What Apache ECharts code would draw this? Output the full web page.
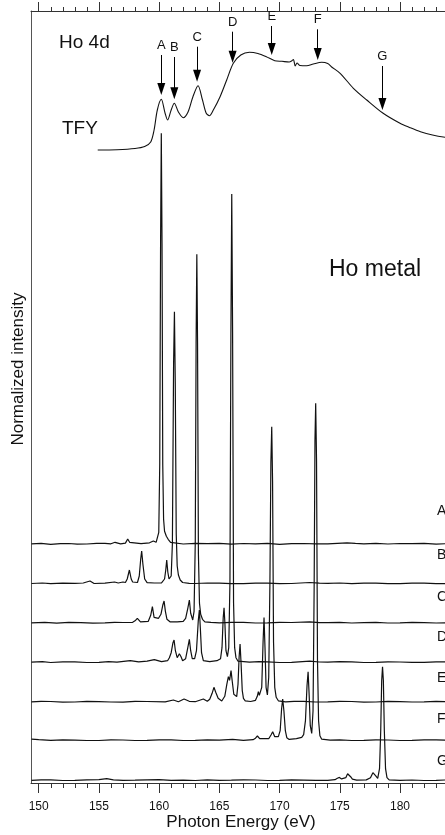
<!DOCTYPE html>
<html>
<head>
<meta charset="utf-8">
<script src="https://cdn.jsdelivr.net/npm/echarts@6/dist/echarts.min.js"></script>
<style>
html,body{margin:0;padding:0;background:#fff;}
#chart{width:445px;height:835px;}
</style>
</head>
<body>
<div id="chart"></div>
<script>
// Energy axis ticks (eV)
const majorTicks = [150, 155, 160, 165, 170, 175, 180, 185];
const minorTicks = [150,151,152,153,154,155,156,157,158,159,160,161,162,163,164,165,166,167,168,169,170,171,172,173,174,175,176,177,178,179,180,181,182,183,184,185];

// Excitation energies marked on the TFY spectrum
const arrowLetters = ['A', 'B', 'C', 'D', 'E', 'F', 'G'];
const arrowEnergy  = [160.18, 161.26, 163.15, 166.1, 169.35, 173.17, 178.54];
const arrowStart   = [728, 726, 736.3, 751.3, 757, 753.7, 717];
const arrowTip     = [688, 683.7, 701.3, 720.3, 728, 723, 673];

// Total fluorescence yield [energy, intensity]
const tfy = [[154.9,633],[156.5,633.3],[158.0,634.5],[158.8,636.5],[159.3,641],[159.58,653],[159.85,673],[160.18,683.7],[160.49,670],[160.7,663],[161.0,673],[161.26,679.7],[161.6,671],[162.0,665.3],[162.4,671],[162.8,686],[163.23,697.3],[163.6,683],[163.9,670],[164.17,667.3],[164.5,673],[165.06,686.3],[165.61,703],[166.16,719.7],[166.78,728],[167.5,730.7],[168.2,729.5],[168.9,726.3],[169.6,722.3],[170.2,721.7],[170.8,721],[171.0,722],[171.15,723.5],[171.3,717],[171.45,720],[171.7,717.5],[172.25,717.3],[172.8,719],[173.5,720.7],[174.0,719.5],[174.3,716.3],[175.03,709.7],[176.13,694.7],[177.24,683],[178.6,669.7],[180.0,659.7],[180.8,655.5],[181.7,651.3],[182.7,648],[183.75,645.7],[184.9,644]];

// Resonant emission spectra: vertical offsets and [energy, intensity above baseline]
const traceNames = ['A', 'B', 'C', 'D', 'E', 'F', 'G'];
const traceOffsets = [238.7, 199, 159.7, 120.3, 80.7, 42.3, 2.3];

const traceA = [[149.4,0.5],[150.2,1],[151,0],[151.8,0.7],[152.5,0.8],[153.2,0.2],[154,0.3],[154.8,0.9],[155.5,1],[156.0,0.5],[156.34,2],[156.8,0.5],[157.2,1.2],[157.39,5.3],[157.55,2],[157.7,0.8],[158.5,0.6],[159.2,1.5],[159.52,3.3],[159.65,2],[159.75,2],[159.88,4],[159.97,12],[160.05,80],[160.12,300],[160.18,411],[160.24,300],[160.3,80],[160.37,25],[160.45,13],[160.6,8],[160.75,5],[160.95,2],[161.1,0.8],[162,0.3],[163,0.9],[164,0.6],[165,0.9],[166,0.2],[167,0.8],[168,0.5],[169,0.9],[170,0],[171,0.6],[172,0.8],[173,0.4],[174,0.5],[175.6,1.5],[176.3,0.9],[177,0.5],[178,0.9],[179,0.3],[180,0.8],[181,0.6],[182,0.9],[183,0.2],[184,0.7],[184.9,0.5]];

const traceB = [[149.4,0.5],[150.3,1],[151,0.3],[152,0.9],[153,0.6],[153.7,1],[154.26,3],[154.6,0.5],[155.5,0.8],[156.3,2],[156.6,1],[157,2],[157.2,1.5],[157.35,5],[157.53,14],[157.68,5],[157.8,2],[158.2,1.5],[158.35,8],[158.47,25],[158.55,33],[158.65,20],[158.8,5],[159,1.3],[159.6,1],[160.2,1.2],[160.45,5],[160.55,14],[160.63,24],[160.72,12],[160.82,5],[160.9,4],[161.0,8],[161.1,40],[161.2,220],[161.27,272.3],[161.34,200],[161.42,50],[161.5,18],[161.6,9],[161.75,4],[161.95,1.5],[162.5,0.6],[163,0.5],[164,1],[165,0.8],[166,0.4],[167,0.3],[168,0.9],[169,0.8],[170,0.3],[171,0.5],[172.5,1.5],[173.3,0.8],[174,0.6],[175,1],[176,0.3],[177,0.9],[178,0.8],[179,0.3],[180,0.4],[181,0.9],[182,0.8],[183,0.3],[184.9,0.4]];

const traceC = [[149.4,0.5],[150.5,0.9],[151.5,0.2],[152.5,0.9],[153.5,0.7],[154.5,0.2],[155.5,0.4],[156.3,1],[157,0.8],[157.8,1],[158.0,2.5],[158.19,5],[158.45,1.5],[159.1,2],[159.3,8],[159.44,16.7],[159.58,6],[159.73,5],[159.95,5],[160.15,9],[160.3,18],[160.41,22.3],[160.52,12],[160.65,4],[160.9,1.5],[161.5,1.5],[162,2],[162.2,5],[162.38,15],[162.51,23.3],[162.62,10],[162.79,3.3],[162.9,12],[163.0,80],[163.07,280],[163.13,369],[163.19,280],[163.26,70],[163.35,20],[163.45,9],[163.6,4],[163.8,1.5],[164.3,1],[165,0.5],[166,0.9],[167,1],[168,0.3],[169,0.4],[170,1],[171,0.8],[172.5,1.5],[173.3,0.6],[174,0.6],[175,1],[176,0.3],[177,0.7],[178,0.9],[179,0.3],[180,0.4],[181,0.9],[182,0.7],[183,0.3],[184.9,0.5]];

const traceD = [[149.4,0.5],[150.3,1],[151,0.2],[152,0.9],[153,0.8],[154,0.2],[155,0.3],[155.8,1],[156.5,0.6],[157.6,2],[158.3,0.8],[159,1.5],[159.6,3],[160.2,1],[160.7,2],[160.85,5],[161.0,10],[161.15,20],[161.24,22.7],[161.35,12],[161.5,5],[161.6,4],[161.68,9],[161.74,11],[161.82,6],[161.95,2],[162.2,4],[162.38,15],[162.51,23.3],[162.62,12],[162.75,4],[162.95,4],[163.1,12],[163.25,42],[163.34,52.7],[163.42,35],[163.52,10],[163.67,2],[164.2,1],[164.8,2],[165.1,4],[165.22,15],[165.32,45],[165.39,55],[165.46,40],[165.55,12],[165.67,6],[165.78,15],[165.88,80],[165.96,330],[166.03,468.7],[166.1,330],[166.18,60],[166.27,15],[166.38,5],[166.55,1.5],[167.5,0.5],[168.3,1],[169,0.8],[170,0.2],[171,0.4],[172.5,1.5],[173.3,0.7],[174,0.5],[175,1],[176,0.8],[177,0.2],[178,0.3],[179,0.9],[180,0.7],[181,0.3],[182,0.4],[183,0.9],[184.9,0.6]];

const traceE = [[149.4,0.4],[150.2,1],[151,0.8],[152,0.2],[153,0.3],[154,0.9],[155,0.6],[156,0.3],[157,0.2],[158,0.9],[159,0.8],[160.5,0.4],[161.18,2.3],[161.6,0.5],[162.07,3.3],[162.5,1],[163,0.6],[163.67,3.3],[164,1],[164.2,3],[164.4,9],[164.55,15],[164.7,10],[164.9,4],[165.2,1.3],[165.45,6],[165.62,18],[165.75,25.7],[165.85,22],[165.97,31.7],[166.08,20],[166.2,8],[166.3,6],[166.44,5.7],[166.55,18],[166.64,45],[166.72,58.3],[166.8,40],[166.9,12],[167.0,4],[167.15,1.5],[167.6,0.8],[168.0,2],[168.15,6],[168.24,10.7],[168.32,7],[168.4,5],[168.52,15],[168.63,60],[168.71,84.7],[168.79,55],[168.88,15],[168.99,7.3],[169.1,25],[169.2,120],[169.28,240],[169.35,275.6],[169.42,220],[169.5,60],[169.6,15],[169.72,5],[169.9,1.5],[170.5,0.5],[171.2,0.9],[172,1],[173,0.3],[174,0.5],[175,1],[176,0.8],[177,0.2],[178,0.3],[179,0.9],[180,0.7],[181,0.3],[182,0.4],[183,0.9],[184.9,0.5]];

const traceF = [[149.4,1.5],[150,1],[151,0.3],[152,0.9],[153,0.6],[154,0.2],[155,0.2],[156,0.9],[157,0.7],[158,0.2],[159,0.3],[160,0.9],[161,0.8],[162,0.2],[163,0.4],[164,0.9],[165,0.6],[166.1,1.3],[167,0.4],[167.8,1],[168.0,2.5],[168.16,4.7],[168.35,2],[168.5,0.8],[169.1,2],[169.3,6],[169.43,9],[169.6,4],[169.75,2.5],[169.9,4],[170.05,10],[170.17,32],[170.26,41.7],[170.36,30],[170.48,10],[170.6,3],[170.8,1.3],[171.4,2],[171.84,3.3],[172.0,6],[172.15,20],[172.28,55],[172.37,69],[172.46,45],[172.55,15],[172.67,7.3],[172.78,30],[172.87,150],[172.94,300],[173.0,337.4],[173.07,280],[173.15,80],[173.24,20],[173.35,5],[173.5,1.5],[174.2,0.5],[175,0.8],[176,0.2],[177,0.3],[178,0.9],[179,0.7],[180,0.2],[181,0.4],[182,0.9],[183,0.8],[184.9,0.4]];

const traceG = [[149.4,0.3],[150.2,0.9],[151,0.8],[152,0.2],[153,0.4],[154,0.9],[155,1],[155.65,2],[156.2,0.8],[157,0.3],[158,0.5],[159,0.9],[160,1],[161,0.3],[162,0.6],[163,0.2],[164,0.9],[165,0.3],[166,0.5],[167,0.9],[168,0.7],[169,0.2],[170,0.3],[171,0.9],[172,0.6],[173,0.3],[174,0.4],[174.6,1],[174.8,2.5],[174.97,3.3],[175.15,1.8],[175.3,1],[175.5,3],[175.65,7],[175.77,8],[175.9,4],[176.05,1.5],[176.4,0.5],[177.2,0.8],[177.55,3],[177.75,8],[177.87,9],[177.97,5],[178.05,3],[178.15,2.3],[178.3,12],[178.4,50],[178.48,100],[178.55,114],[178.62,100],[178.7,50],[178.8,12],[178.92,3],[179.1,0.8],[180,0.3],[181,0.7],[182,0.2],[183,0.4],[184,0.8],[184.9,0.6]];

const traces = [traceA, traceB, traceC, traceD, traceE, traceF, traceG];

// Heights (trace units) of the A–G tags at the right edge
const traceLabelY = [272, 228, 186, 146, 105, 64, 22];

const FONT = 'Liberation Sans, Arial, sans-serif';
const X_MIN = 149.36, X_MAX = 184.9;
const Y_MIN = 0, Y_MAX = 772;
const HEAD = 12;

const chart = echarts.init(document.getElementById('chart'), null, {renderer: 'canvas'});

const gridTop = 11, gridLeft = 31, gridHeight = 772, gridWidth = 428;

function xAxisDef(pos, ticks, len, showLine, showLabels) {
  return {
    type: 'value', position: pos, min: X_MIN, max: X_MAX, gridIndex: 0,
    axisLine: {show: showLine, onZero: false, lineStyle: {color: '#333', width: 1}},
    axisTick: {show: true, inside: false, length: len, customValues: ticks, lineStyle: {color: '#333', width: 1}},
    axisLabel: showLabels ? {show: true, customValues: majorTicks, fontFamily: FONT, fontSize: 12, color: '#111', margin: 18} : {show: false},
    splitLine: {show: false}
  };
}

const series = [];
series.push({
  type: 'line', name: 'TFY', data: tfy, showSymbol: false, smooth: 0.3,
  lineStyle: {color: '#111', width: 1.1}, silent: true, z: 3,
  markLine: {
    silent: true, animation: false,
    symbol: ['none', 'triangle'], symbolSize: [8, HEAD],
    lineStyle: {color: '#000', width: 1, type: 'solid'},
    label: {show: true, position: 'start', formatter: '{b}', fontFamily: FONT, fontSize: 13, color: '#111', distance: 3},
    data: arrowLetters.map((l, i) => [
      {name: l, coord: [arrowEnergy[i], arrowStart[i]]},
      {coord: [arrowEnergy[i], arrowTip[i] + HEAD / 2]}
    ])
  }
});
traces.forEach((t, i) => {
  series.push({
    type: 'line', name: traceNames[i], showSymbol: false,
    data: t.map(p => [p[0], p[1] + traceOffsets[i]]),
    lineStyle: {color: '#111', width: 1.2}, silent: true, z: 2
  });
});

const valToPxY = v => gridTop + gridHeight * (1 - (v - Y_MIN) / (Y_MAX - Y_MIN));
const textStyle = (t, size) => ({text: t, font: size + 'px ' + FONT, fill: '#111'});

const graphics = [
  {type: 'text', left: 59, top: 44 - 11, style: textStyle('Ho 4d', 19)},
  {type: 'text', left: 62, top: 130 - 11, style: textStyle('TFY', 19)},
  {type: 'text', left: 329, top: 271 - 13, style: textStyle('Ho metal', 23)},
  {type: 'text', x: 241, y: 822, style: Object.assign(textStyle('Photon Energy (eV)', 17), {align: 'center', verticalAlign: 'middle'})},
  {type: 'text', x: 18, y: 369, rotation: Math.PI / 2, style: Object.assign(textStyle('Normalized intensity', 17), {align: 'center', verticalAlign: 'middle'})}
];
traceNames.forEach((n, i) => {
  graphics.push({type: 'text', x: 437, y: valToPxY(traceLabelY[i]), style: Object.assign(textStyle(n, 14), {verticalAlign: 'middle'})});
});

chart.setOption({
  animation: false,
  backgroundColor: '#fff',
  grid: {left: gridLeft, top: gridTop, width: gridWidth, height: gridHeight, containLabel: false, outerBoundsMode: 'none'},
  xAxis: [
    xAxisDef('bottom', majorTicks, 10, true, true),
    xAxisDef('bottom', minorTicks, 5, false, false),
    xAxisDef('top', majorTicks, 9, true, false),
    xAxisDef('top', minorTicks, 4, false, false)
  ],
  yAxis: {
    type: 'value', min: Y_MIN, max: Y_MAX,
    axisLine: {show: true, lineStyle: {color: '#555', width: 1}},
    axisTick: {show: false}, axisLabel: {show: false}, splitLine: {show: false}
  },
  series: series,
  graphic: graphics
});
</script>
</body>
</html>
